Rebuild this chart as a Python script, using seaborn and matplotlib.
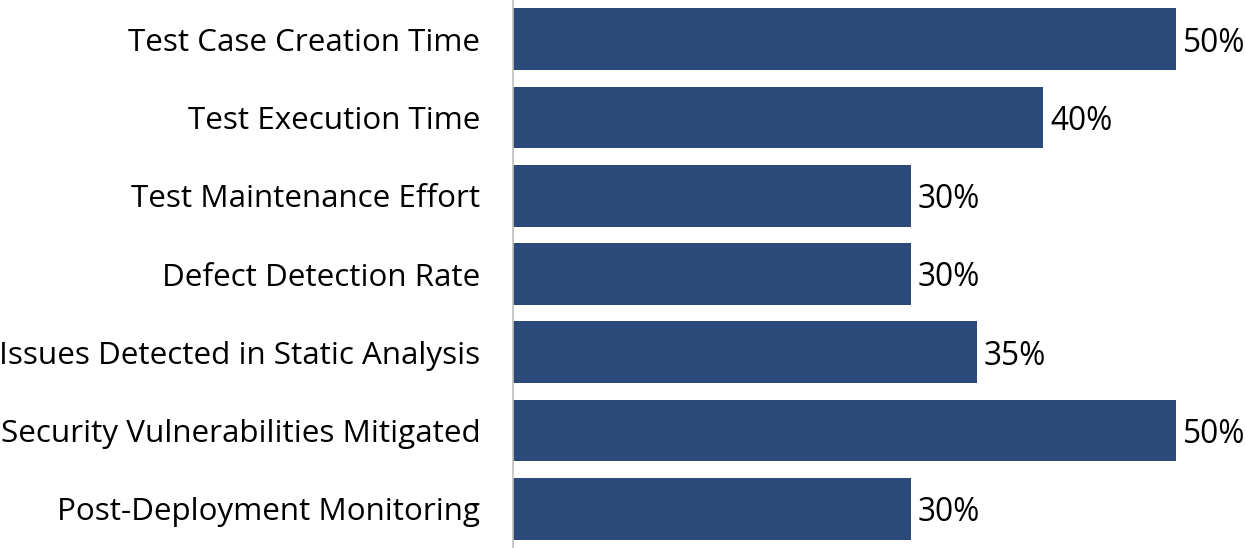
import matplotlib
matplotlib.use("Agg")
import matplotlib.pyplot as plt
import seaborn as sns
import pandas as pd

# Datos
categories = [
    "Test Case Creation Time",
    "Test Execution Time",
    "Test Maintenance Effort",
    "Defect Detection Rate",
    "Issues Detected in Static Analysis",
    "Security Vulnerabilities Mitigated",
    "Post-Deployment Monitoring",
]
values = [50, 40, 30, 30, 35, 50, 30]

df = pd.DataFrame({"category": categories, "value": values})

sns.set_theme(style="white")
plt.rcParams["font.family"] = ["Open Sans", "DejaVu Sans"]

fig = plt.figure(figsize=(12.45, 5.48), dpi=100)
ax = fig.add_axes([513 / 1245, 0.0, (1176 - 513) / 1245, 1.0])

sns.barplot(data=df, x="value", y="category", color="#2B4A7A",
            saturation=1, width=0.79, orient="h", linewidth=0, ax=ax)

ax.set_xlim(0, 50)
ax.set_ylim(6.5, -0.5)
ax.set_xlabel("")
ax.set_ylabel("")
ax.set_xticks([])
ax.tick_params(axis="y", length=0, pad=23.5, labelsize=22.6, labelcolor="black")

for s in ["top", "right", "bottom"]:
    ax.spines[s].set_visible(False)
ax.spines["left"].set_color("#BFBFBF")
ax.spines["left"].set_linewidth(1.2)

for i, v in enumerate(values):
    ax.text(v + 0.5, i + 0.05, f"{v}%", va="center", ha="left",
            fontsize=22.8, color="black", clip_on=False)

fig.savefig("out.png", dpi=100)
